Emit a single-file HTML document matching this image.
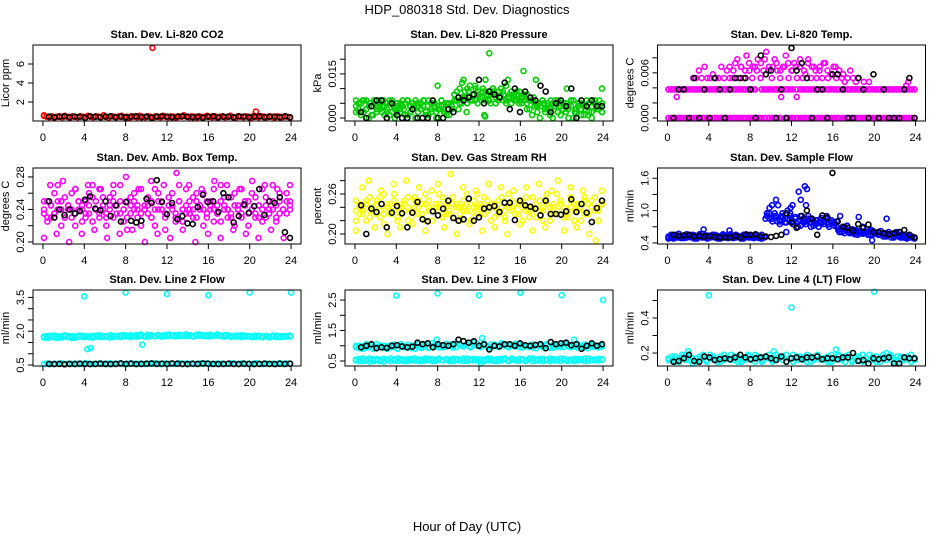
<!DOCTYPE html>
<html><head><meta charset="utf-8">
<style>
html,body{margin:0;padding:0;background:#fff;}
svg{display:block;font-family:"Liberation Sans",Arial,sans-serif;}
</style></head>
<body>
<svg id="chart" width="936" height="540" viewBox="0 0 936 540">
<text x="467" y="14" text-anchor="middle" font-size="13">HDP_080318  Std. Dev. Diagnostics</text>
<text x="467" y="531" text-anchor="middle" font-size="13">Hour of Day (UTC)</text>
</svg>
<script>
// ---------- data ----------
const xTickValues = [0,4,8,12,16,20,24];
const xTickLabels = ["0","4","8","12","16","20","24"];

const co2Red = [0.55,0.45,0.4,0.5,0.35,0.45,0.5,0.4,0.55,0.45,0.35,0.5,0.45,0.4,0.5,0.45,0.35,0.55,0.45,0.4,0.5,0.45,0.4,0.6,0.45,0.35,0.5,0.45,0.4,0.5,0.55,0.4,0.45,0.35,0.5,0.45,0.4,0.55,0.45,0.4,0.5,0.45,0.35,0.5,0.45,0.4,0.55,0.45,0.4,0.5,0.45,0.35,0.5,0.45,0.6,0.45,0.4,0.5,0.45,0.35,0.5,0.4,0.45,0.55,0.45,0.4,0.5,0.35,0.45,0.5,0.4,0.45,0.55,0.4,0.35,0.5,0.45,0.4,0.5,0.45,0.35,0.55,0.45,0.4,0.5,0.45,0.4,0.5,0.45,0.35,0.5,0.45,0.4,0.5,0.45,0.35];
const co2OutHours = [10.6,20.6,0.1];
const co2OutVals = [7.7,1.0,0.6];
const co2Black = [0.45,0.4,0.45,0.5,0.4,0.45,0.45,0.35,0.5,0.45,0.4,0.45,0.5,0.4,0.45,0.4,0.45,0.5,0.4,0.45,0.35,0.45,0.5,0.45,0.4,0.45,0.5,0.45,0.4,0.45,0.35,0.45,0.5,0.4,0.45,0.45,0.4,0.5,0.45,0.4,0.45,0.5,0.4,0.45,0.45,0.4,0.5,0.4];

const presGreen1 = [0.006,0.003,0.005,0.002,0.006,0.004,0.001,0.005,0.003,0.006,0.002,0.004,0.005,0.001,0.006,0.003,0.004,0.002,0.006,0.005,0.001,0.004,0.003,0.006,0.002,0.005,0.004,0.001,0.006,0.003,0.005,0.002,0.004,0.006,0.003,0.001,0.005,0.004,
0.008,0.006,0.010,0.007,0.009,0.005,0.011,0.008,0.006,0.009,0.007,0.010,0.006,0.008,0.005,0.009,0.007,0.006,0.010,0.008,0.005,0.007,0.009,0.006,0.008,0.005,0.007,0.006,
0.005,0.003,0.006,0.004,0.002,0.005,0.006,0.003,0.004,0.001,0.005,0.006,0.002,0.004,0.003,0.005,0.000,0.004,0.006,0.002,0.005,0.003,0.001,0.004,0.005,0.002,0.006,0.003,0.004,0.005];
const presGreen2 = [0.002,0.005,0.001,0.006,0.003,0.000,0.004,0.006,0.002,0.005,0.004,0.001,0.003,0.006,0.002,0.000,0.005,0.003,0.004,0.001,0.006,0.002,0.005,0.000,0.004,0.003,0.006,0.002,0.001,0.005,0.004,0.000,0.003,0.006,0.002,0.005,0.001,0.003,
0.006,0.009,0.005,0.012,0.007,0.010,0.006,0.008,0.011,0.005,0.007,0.009,0.013,0.006,0.008,0.010,0.005,0.009,0.007,0.006,0.011,0.007,0.005,0.008,0.006,0.009,0.005,0.008,
0.003,0.006,0.001,0.005,0.004,0.000,0.006,0.002,0.005,0.003,0.000,0.004,0.006,0.001,0.005,0.002,0.004,0.006,0.000,0.003,0.005,0.001,0.004,0.006,0.002,0.000,0.005,0.003,0.006,0.002];
const presGreen3 = [0.004,0.002,0.006,0.003,0.005,0.001,0.004,0.003,0.006,0.002,0.005,0.004,0.002,0.005,0.003,0.006,0.002,0.004,0.005,0.003,0.006,0.004,0.002,0.005,0.003,0.004,0.002,0.005,0.004,0.006,0.003,0.005,
0.007,0.009,0.006,0.010,0.008,0.007,0.009,0.006,0.010,0.008,0.007,0.009,0.006,0.008,0.007,0.009,0.006,0.007,0.008,0.006,0.007,0.005,
0.004,0.005,0.003,0.006,0.004,0.002,0.005,0.004,0.003,0.006,0.002,0.004,0.005,0.003,0.001,0.004,0.006,0.003,0.002];
const presOutHours = [13.0,8.0,16.3,10.5,17.5,20.5,23.9,12.5,12.6,14.8,10.8];
const presOutVals = [0.022,0.011,0.016,0.013,0.013,0.010,0.010,0.001,0.0005,0.013,0.002];
const presBlack = [0.002,0.000,0.004,0.006,0.006,0.000,0.005,0.001,0.000,0.000,0.003,0.000,0.000,0.000,0.006,0.000,0.000,0.003,0.002,0.007,0.006,0.007,0.008,0.013,0.005,0.009,0.008,0.007,0.012,0.003,0.010,0.002,0.009,0.007,0.006,0.011,0.009,0.002,0.005,0.006,0.004,0.010,0.000,0.006,0.004,0.006,0.004,0.004];

const tempZero = [0,0,0,0,0,0,0,0,0,0,0,0,0,0,0,0,0,0,0,0,0,0,0,0,0,0,0,0,0,0,0,0,0,0,0,0,0,0,null,0,0,0,0,0,null,0,0,0,0,null,0,0,0,0,0,0,0,0,0,0,0,0,0,0,0,0,0,0,0,0,0,0,0,0,0,0,0,0,0,0,0,0,0,0,0,0,0,0,0,0,0,0,0,0,0,0];
const tempZero2 = [0,0,0,0,0,0,0,0,0,0,0,0,0,0,0,0,0,0,0,0,0,0,0,0,0,0,0,null,0,0,0,0,0,null,0,0,0,0,0,0,0,0,0,0,0,0,0,0,0,0,0,0,0,0,0,0,0,0,0,0,0,0,0,0,0,0,0,0,0,0,0,0];
const tempMid = [0.0038,0.0038,0.0038,0.0038,0.0038,0.0038,0.0038,0.0038,0.0038,0.0038,0.0038,0.0038,0.0038,0.0038,0.0038,0.0038,0.0038,0.0038,0.0038,0.0038,0.0038,0.0038,0.0038,0.0038,0.0038,0.0038,0.0038,0.0038,0.0038,0.0038,0.0038,0.0038,0.0038,0.0038,null,null,0.0038,0.0038,0.0038,0.0038,0.0038,0.0038,0.0038,0.0038,0.0038,0.0038,0.0038,0.0038,0.0038,null,null,0.0038,0.0038,0.0038,0.0038,0.0038,0.0038,0.0038,0.0038,0.0038,0.0038,0.0038,0.0038,0.0038,0.0038,0.0038,0.0038,0.0038,0.0038,0.0038,0.0038,0.0038,0.0038,0.0038,0.0038,0.0038,0.0038,0.0038,0.0038,0.0038,0.0038,0.0038,0.0038,0.0038,0.0038,0.0038,0.0038,0.0038,0.0038,0.0038,0.0038,0.0038,0.0038,0.0038,0.0038,0.0038];
const tempMid2 = [0.0038,0.0038,0.0038,0.0038,0.0038,0.0038,0.0038,0.0038,0.0038,0.0038,0.0038,0.0038,0.0038,0.0038,0.0038,0.0038,0.0038,0.0038,0.0038,0.0038,0.0038,0.0038,0.0038,0.0038,0.0038,0.0038,null,0.0038,0.0038,0.0038,0.0038,0.0038,0.0038,0.0038,0.0038,0.0038,null,0.0038,0.0038,0.0038,0.0038,0.0038,0.0038,0.0038,0.0038,0.0038,0.0038,0.0038,0.0038,0.0038,0.0038,0.0038,0.0038,0.0038,0.0038,0.0038,0.0038,0.0038,0.0038,0.0038,0.0038,0.0038,0.0038,0.0038,0.0038,0.0038,0.0038,0.0038,0.0038,0.0038,0.0038,0.0038];
const tempHigh = [0.0053,0.0053,0.0063,0.0053,0.0068,0.0053,0.0053,0.0058,0.0053,0.0053,0.0068,0.0053,0.0063,0.0053,0.0053,0.0073,0.0053,0.0068,0.0053,0.0083,0.0063,0.0053,0.0068,0.0078,0.0053,0.0063,0.0088,0.0068,0.0053,0.0078,0.0063,0.0053,0.0068,0.0083,0.0053,0.0063,0.0073,0.0053,0.0068,0.0053,0.0058,0.0078,0.0053,0.0068,0.0053,0.0063,0.0053,0.0073,0.0053,0.0058,0.0068,0.0053,0.0063,0.0053,0.0048,0.0053,0.0063,0.0053,0.0048,0.0053];
const tempHigh2 = [0.0068,0.0063,0.0078,0.0068,0.0063,0.0073,0.0068,0.0063,0.0073,0.0078,0.0063,0.0068,0.0073,0.0063,0.0068,0.0073,0.0063,0.0068,0.0078,0.0063,0.0073,0.0068,0.0063,0.0068,0.0073,0.0063,0.0058,0.0068,0.0063,0.0058];
const tempOutHours = [0.9,11.0,12.5,19.0,19.5,23.1,23.3];
const tempOutVals = [0.0028,0.0028,0.0028,0.0048,0.0048,0.0043,0.0048];
const tempBlack = [0,0.0038,0.0038,0,0.0053,0,0.0038,0,0.0053,0.0038,0,0.0038,0.0053,0.0053,0.0053,0.0038,0,0.0083,0.0058,0.0063,0,0.0038,0,0.0093,0.0063,0.0073,0.0053,0,0.0038,0.0038,0,0.0058,0.0058,0.0038,0,0,0.0053,0.0038,0,0.0058,0,0.0038,0,0,0,0.0038,0.0053,0];

const ambMag1 = [0.235,0.25,0.23,0.26,0.24,0.22,0.255,0.245,0.23,0.265,0.24,0.225,0.25,0.235,0.27,0.24,0.23,0.255,0.22,0.245,0.26,0.235,0.25,0.24,0.215,0.255,0.24,0.23,0.265,0.245,0.235,0.25,0.22,0.26,0.24,0.23,0.255,0.245,0.225,0.27,0.24,0.235,0.25,0.23,0.26,0.245,0.22,0.25,0.24,0.265,0.235,0.225,0.255,0.24,0.23,0.26,0.245,0.235,0.25,0.22,0.24,0.255,0.23,0.265,0.245,0.235,0.25,0.225,0.26,0.24,0.235,0.25];
const ambMag2 = [0.25,0.225,0.245,0.235,0.27,0.25,0.23,0.24,0.26,0.22,0.25,0.245,0.235,0.26,0.225,0.25,0.265,0.24,0.235,0.255,0.23,0.245,0.27,0.225,0.25,0.235,0.26,0.245,0.22,0.24,0.255,0.23,0.265,0.24,0.25,0.215,0.245,0.26,0.235,0.25,0.225,0.265,0.24,0.255,0.23,0.24,0.26,0.235,0.25,0.225,0.245,0.27,0.24,0.23,0.255,0.22,0.24,0.265,0.25,0.235,0.26,0.23,0.245,0.225,0.255,0.24,0.27,0.23,0.25,0.24,0.26,0.245];
const ambMag3 = [0.205,0.27,0.21,0.275,0.2,0.265,0.21,0.27,0.215,0.265,0.205,0.27,0.21,0.28,0.215,0.265,0.2,0.275,0.21,0.27,0.205,0.285,0.215,0.27,0.2,0.265,0.21,0.275,0.205,0.27,0.215,0.265,0.21,0.275,0.205,0.27,0.215,0.265,0.205,0.27];
const ambMag4 = [0.24,0.23,0.245,0.235,0.25,0.24,0.23,0.245,0.24,0.235,0.25,0.24,0.23,0.245,0.255,0.24,0.235,0.245,0.23,0.24,0.25,0.245,0.235,0.24,0.23,0.245,0.25,0.24,0.235,0.24,0.245,0.23,0.24,0.25,0.24,0.235,0.245,0.24,0.23,0.25,0.24,0.245,0.235,0.24,0.25,0.245,0.24,0.23,0.245,0.24,0.235,0.25,0.245,0.24,0.235,0.245,0.24,0.23,0.245,0.25,0.24,0.235,0.245,0.24,0.23,0.25,0.24,0.245,0.235,0.24,0.25,0.24];
const ambBlack = [0.25,0.23,0.24,0.233,0.24,0.235,0.238,0.252,0.256,0.241,0.239,0.25,0.232,0.245,0.225,0.249,0.226,0.224,0.226,0.253,0.248,0.276,0.249,0.234,0.248,0.228,0.232,0.223,0.222,0.243,0.258,0.249,0.25,0.237,0.26,0.255,0.224,0.232,0.246,0.236,0.244,0.265,0.233,0.25,0.248,0.255,0.212,0.205];

const rhYel1 = [0.22,0.245,0.235,0.25,0.225,0.24,0.23,0.255,0.215,0.245,0.235,0.26,0.225,0.24,0.25,0.22,0.235,0.255,0.23,0.245,0.22,0.25,0.235,0.24,0.26,0.225,0.245,0.23,0.255,0.24,0.22,0.25,0.235,0.245,0.225,0.26,0.24,0.23,0.25,0.22,0.245,0.235,0.255,0.225,0.24,0.25,0.23,0.245,0.22,0.255,0.235,0.24,0.225,0.25,0.235,0.26,0.22,0.245,0.23,0.25,0.24,0.225,0.255,0.235,0.245,0.22,0.25,0.23,0.24,0.255,0.235,0.245];
const rhYel2 = [0.25,0.23,0.24,0.22,0.255,0.235,0.245,0.225,0.26,0.24,0.23,0.25,0.22,0.245,0.235,0.255,0.225,0.24,0.25,0.23,0.26,0.235,0.22,0.245,0.24,0.255,0.23,0.25,0.225,0.245,0.24,0.235,0.26,0.22,0.25,0.24,0.23,0.255,0.235,0.245,0.225,0.25,0.24,0.22,0.26,0.235,0.245,0.23,0.25,0.24,0.225,0.255,0.245,0.235,0.22,0.25,0.24,0.23,0.26,0.245,0.225,0.235,0.25,0.22,0.245,0.24,0.255,0.23,0.25,0.235,0.22,0.245];
const rhYel3 = [0.205,0.27,0.28,0.21,0.265,0.2,0.275,0.21,0.28,0.215,0.27,0.205,0.265,0.275,0.21,0.29,0.2,0.27,0.215,0.265,0.205,0.275,0.21,0.27,0.2,0.265,0.215,0.27,0.205,0.275,0.21,0.265,0.28,0.205,0.27,0.21,0.265,0.2,0.19,0.265];
const rhYel4 = [0.235,0.24,0.23,0.245,0.235,0.24,0.25,0.235,0.23,0.24,0.245,0.235,0.24,0.23,0.245,0.24,0.235,0.25,0.24,0.23,0.245,0.24,0.235,0.24,0.245,0.23,0.24,0.235,0.245,0.24,0.23,0.24,0.245,0.235,0.24,0.23,0.245,0.24,0.235,0.245,0.24,0.23,0.24,0.235,0.245,0.24,0.23,0.245,0.24,0.235,0.24,0.23,0.245,0.235,0.24,0.245,0.23,0.24,0.235,0.245,0.24,0.23,0.24,0.245,0.235,0.24,0.23,0.245,0.24,0.235,0.24,0.245];
const rhBlack = [0.243,0.2,0.238,0.233,0.245,0.21,0.232,0.242,0.231,0.21,0.232,0.248,0.222,0.219,0.234,0.228,0.238,0.25,0.224,0.22,0.222,0.253,0.22,0.225,0.238,0.24,0.242,0.233,0.247,0.247,0.221,0.25,0.243,0.241,0.238,0.228,0.25,0.23,0.23,0.229,0.234,0.252,0.233,0.245,0.232,0.218,0.239,0.25];

const flowBlue1 = [0.5,0.52,0.48,0.55,0.5,0.53,0.49,0.56,0.51,0.5,0.54,0.48,0.52,0.57,0.5,0.49,0.53,0.51,0.55,0.48,0.52,0.5,0.54,0.49,0.56,0.51,0.5,0.53,0.48,0.55,0.52,0.5,0.54,0.49,0.52,0.5,0.48,0.52,
0.95,1.05,0.85,0.9,0.8,0.75,0.95,0.85,1.0,0.9,0.8,0.85,0.7,0.9,0.8,0.75,0.85,0.7,0.8,0.75,0.7,0.8,0.75,0.85,0.7,0.78,0.72,0.8,
0.65,0.6,0.7,0.62,0.58,0.65,0.6,0.55,0.62,0.7,0.58,0.6,0.55,0.62,0.57,0.6,0.55,0.58,0.52,0.6,0.55,0.5,0.57,0.52,0.55,0.5,0.53,0.5,0.52,0.48];
const flowBlue2 = [0.48,0.55,0.52,0.5,0.57,0.49,0.53,0.5,0.55,0.52,0.48,0.51,0.56,0.5,0.53,0.48,0.52,0.55,0.5,0.53,0.48,0.56,0.51,0.5,0.53,0.49,0.55,0.52,0.5,0.48,0.56,0.53,0.5,0.52,0.55,0.49,0.55,0.5,
0.9,0.85,1.1,0.95,0.88,0.8,0.9,0.78,0.85,0.95,0.75,0.88,0.8,0.72,0.85,0.8,0.9,0.78,0.72,0.82,0.78,0.86,0.8,0.9,0.75,0.82,0.78,0.7,
0.6,0.68,0.58,0.72,0.6,0.65,0.56,0.62,0.58,0.68,0.6,0.55,0.65,0.6,0.58,0.55,0.62,0.52,0.58,0.55,0.5,0.56,0.6,0.52,0.5,0.55,0.48,0.52,0.5,0.5];
const flowBlue3 = [0.52,0.5,0.54,0.51,0.53,0.5,0.52,0.55,0.5,0.52,0.51,0.54,0.5,0.53,0.52,0.5,0.54,0.51,0.52,0.5,0.53,0.51,0.5,0.52,0.54,0.5,0.52,0.51,
0.85,0.95,0.8,0.9,0.82,0.88,0.78,0.85,0.8,0.76,0.82,0.78,0.8,0.84,0.78,0.82,0.76,0.8,0.74,0.78,0.76,
0.64,0.6,0.66,0.62,0.58,0.64,0.6,0.57,0.6,0.62,0.56,0.58,0.55,0.57,0.53,0.55,0.52,0.54,0.5,0.52,0.5,0.51,0.5];
const flowOutHours = [10.5,10.7,11.9,12.1,12.7,12.9,13.3,13.5,13.4,3.5,6,11.5,16.7,18.5,21.2,19.8];
const flowOutVals = [1.2,1.1,1.05,1.1,1.35,1.2,1.45,1.4,1.1,0.65,0.63,0.6,0.9,0.88,0.85,0.45];
const flowBlack = [0.55,0.53,0.54,0.55,0.52,0.53,0.52,0.53,0.51,0.5,0.5,0.5,0.53,0.5,0.55,0.55,0.56,0.52,0.52,0.51,0.53,0.55,0.95,0.78,0.68,0.9,1.0,0.85,0.55,0.91,0.87,1.7,0.8,0.7,0.68,0.62,0.75,0.68,0.74,0.6,0.6,0.58,0.56,0.58,0.6,0.64,0.55,0.5];

const l2Upper = [1.72,1.78,1.75,1.8,1.7,1.76,1.82,1.74,1.78,1.71,1.77,1.8,1.75,1.73,1.79,1.76,1.82,1.74,1.78,1.72,1.8,1.77,1.75,1.83,1.78,1.74,1.8,1.76,1.85,1.79,1.75,1.82,1.78,1.8,1.76,1.83,1.79,1.81,1.77,1.84,1.8,1.78,1.82,1.76,1.8,1.85,1.79,1.82,1.77,1.8,1.86,1.78,1.82,1.79,1.75,1.8,1.77,1.82,1.76,1.79,1.74,1.8,1.77,1.73,1.79,1.76,1.8,1.74,1.78,1.75,1.79,1.76];
const l2Upper2 = [1.76,1.7,1.8,1.73,1.78,1.72,1.77,1.79,1.71,1.76,1.8,1.74,1.79,1.77,1.72,1.8,1.75,1.78,1.76,1.82,1.74,1.79,1.81,1.76,1.8,1.82,1.77,1.83,1.79,1.76,1.84,1.8,1.77,1.83,1.8,1.78,1.85,1.8,1.83,1.78,1.82,1.86,1.8,1.78,1.84,1.8,1.82,1.77,1.84,1.79,1.81,1.8,1.76,1.83,1.78,1.76,1.81,1.75,1.8,1.77,1.78,1.74,1.8,1.76,1.78,1.72,1.77,1.8,1.74,1.78,1.76,1.8];
const l2Lower = [0.55,0.57,0.54,0.56,0.55,0.58,0.54,0.56,0.55,0.57,0.54,0.55,0.58,0.56,0.54,0.55,0.57,0.56,0.54,0.58,0.55,0.56,0.57,0.54,0.55,0.58,0.56,0.55,0.57,0.54,0.56,0.55,0.58,0.56,0.54,0.57,0.55,0.56,0.54,0.58,0.55,0.57,0.56,0.54,0.55,0.57,0.56,0.58,0.54,0.55,0.57,0.56,0.54,0.55,0.58,0.56,0.55,0.57,0.54,0.56,0.55,0.58,0.56,0.54,0.57,0.55,0.56,0.54,0.58,0.55,0.57,0.56];
const l2OutHours = [4.0,8.0,12.0,16.0,20.0,24.0,4.3,4.6,9.6];
const l2OutVals = [3.55,3.72,3.65,3.6,3.72,3.72,1.2,1.25,1.4];
const l2Black = [0.55,0.54,0.55,0.53,0.55,0.54,0.56,0.55,0.54,0.55,0.56,0.55,0.54,0.55,0.57,0.55,0.56,0.54,0.55,0.56,0.57,0.55,0.56,0.55,0.57,0.56,0.55,0.54,0.56,0.55,0.57,0.56,0.55,0.54,0.55,0.56,0.55,0.54,0.56,0.55,0.54,0.55,0.56,0.55,0.54,0.56,0.55,0.56];

const l3Upper = [0.95,1.0,0.9,1.05,0.98,0.92,1.05,0.95,1.0,0.9,1.02,0.96,0.92,1.05,0.98,0.94,1.0,0.9,1.05,0.97,1.0,0.93,1.08,0.98,1.02,0.95,1.06,1.0,0.94,1.08,1.02,0.98,1.05,0.95,1.1,1.0,0.96,1.05,1.0,0.94,1.04,0.98,1.08,1.0,0.95,1.03,0.98,1.05,0.94,1.0,0.96,1.04,0.92,1.0,0.96,1.05,0.98,0.94,1.02,0.96,1.08,1.0,0.95,1.02,0.94,0.98,1.04,0.92,0.98,1.02,0.95,1.0];
const l3Upper2 = [1.0,0.92,0.98,0.94,1.02,0.9,0.97,1.0,0.93,0.98,0.95,1.04,0.9,0.99,0.95,1.03,0.92,1.0,0.96,0.93,1.05,0.95,0.99,1.04,0.95,1.0,0.97,1.04,1.0,0.96,1.06,1.0,1.04,0.98,1.02,1.07,0.98,1.02,0.96,1.04,1.0,0.96,1.02,1.05,0.98,1.0,1.06,0.96,1.02,0.98,1.0,0.95,1.02,1.06,0.98,1.0,0.93,1.04,0.98,1.0,0.96,1.04,1.0,0.97,1.04,1.0,0.94,1.0,1.03,0.96,1.0,0.98];
const l3Lower = [0.55,0.5,0.58,0.52,0.48,0.56,0.53,0.5,0.57,0.54,0.5,0.55,0.58,0.52,0.5,0.56,0.53,0.58,0.5,0.55,0.52,0.57,0.5,0.54,0.58,0.52,0.55,0.5,0.57,0.53,0.55,0.5,0.58,0.54,0.52,0.56,0.5,0.55,0.58,0.52,0.54,0.5,0.57,0.55,0.52,0.58,0.54,0.5,0.56,0.53,0.58,0.5,0.55,0.52,0.57,0.54,0.5,0.56,0.52,0.58,0.55,0.5,0.54,0.57,0.52,0.55,0.5,0.58,0.53,0.55,0.52,0.56];
const l3Lower2 = [0.52,0.57,0.5,0.55,0.58,0.5,0.56,0.54,0.48,0.55,0.58,0.52,0.5,0.56,0.54,0.5,0.57,0.52,0.55,0.5,0.58,0.53,0.56,0.5,0.54,0.52,0.57,0.55,0.5,0.56,0.52,0.58,0.5,0.55,0.57,0.52,0.55,0.5,0.53,0.57,0.5,0.56,0.52,0.58,0.5,0.55,0.52,0.57,0.54,0.5,0.55,0.58,0.52,0.56,0.5,0.54,0.58,0.52,0.55,0.5,0.57,0.54,0.52,0.5,0.56,0.53,0.58,0.5,0.55,0.52,0.57,0.54];
const l3OutHours = [4.0,8.0,12.0,16.0,20.0,24.0,12.3,12.2,7.9,21.2];
const l3OutVals = [2.65,2.72,2.66,2.74,2.66,2.5,1.25,0.42,1.2,1.2];
const l3Black = [0.95,1.0,1.05,0.92,0.95,0.93,1.0,1.02,0.98,0.95,0.97,1.1,1.05,1.08,0.95,1.05,1.02,1.0,1.05,1.2,1.15,1.1,1.15,1.0,1.05,0.88,1.0,0.98,1.05,1.05,1.0,1.08,1.02,1.0,1.03,1.05,0.92,1.12,1.05,1.08,1.1,1.02,1.05,0.9,1.0,1.08,1.0,1.05];

const l4Band1 = [0.17,0.16,0.18,0.15,0.17,0.19,0.16,0.17,0.15,0.18,0.17,0.16,0.19,0.17,0.15,0.18,0.16,0.17,0.19,0.16,0.18,0.15,0.17,0.18,0.16,0.19,0.17,0.15,0.18,0.17,0.16,0.19,0.17,0.18,0.15,0.17,0.19,0.16,0.18,0.17,0.15,0.18,0.16,0.19,0.17,0.16,0.18,0.15,0.17,0.19,0.16,0.18,0.17,0.15,0.18,0.16,0.19,0.17,0.16,0.18,0.15,0.17,0.19,0.16,0.18,0.17,0.15,0.18,0.16,0.17,0.19,0.16];
const l4Band2 = [0.16,0.18,0.15,0.17,0.19,0.16,0.18,0.14,0.17,0.16,0.19,0.15,0.17,0.18,0.16,0.15,0.19,0.17,0.16,0.18,0.15,0.17,0.16,0.19,0.17,0.15,0.18,0.16,0.17,0.19,0.15,0.17,0.18,0.16,0.19,0.17,0.15,0.18,0.17,0.16,0.19,0.15,0.17,0.18,0.16,0.17,0.15,0.19,0.16,0.18,0.17,0.15,0.19,0.16,0.17,0.18,0.15,0.17,0.19,0.16,0.18,0.15,0.17,0.16,0.19,0.15,0.18,0.17,0.16,0.18,0.15,0.17];
const l4OutHours = [4.0,12.0,20.0,2.0,10.3,16.3,21.2];
const l4OutVals = [0.53,0.46,0.55,0.21,0.21,0.22,0.2];
const l4Black = [0.15,0.155,0.17,0.19,0.155,0.15,0.18,0.175,0.16,0.165,0.17,0.165,0.175,0.19,0.175,0.165,0.17,0.175,0.18,0.17,0.16,0.18,0.15,0.17,0.175,0.165,0.175,0.175,0.18,0.165,0.17,0.17,0.165,0.175,0.175,0.2,0.155,0.16,0.14,0.17,0.165,0.17,0.175,0.14,0.14,0.175,0.17,0.17];

// ---------- drawing ----------
const NS = "http://www.w3.org/2000/svg";
const svg = document.getElementById("chart");
const colLeft = [33, 345, 657.5];
const boxW = 268;
const rowTop = [45, 168, 290];
const boxH = 76;
const XMIN = -0.96, XMAX = 24.96;

function mk(tag, attrs, parent) {
  const e = document.createElementNS(NS, tag);
  for (const k in attrs) e.setAttribute(k, attrs[k]);
  (parent || svg).appendChild(e);
  return e;
}
function evenHours(n, t0, t1) {
  const out = [];
  for (let i = 0; i < n; i++) out.push(n === 1 ? t0 : t0 + (t1 - t0) * i / (n - 1));
  return out;
}

function drawPanel(p) {
  const L = colLeft[p.col], T = rowTop[p.row];
  const g = mk("g", {});
  
  
  const xs = h => L + (h - XMIN) / (XMAX - XMIN) * boxW;
  const ys = v => T + boxH - (v - p.ylim[0]) / (p.ylim[1] - p.ylim[0]) * boxH;

  const title = mk("text", {x: L + boxW / 2, y: T - 7, "text-anchor": "middle", "font-size": 11, "font-weight": "bold"}, g);
  title.textContent = p.title;
  
  

  const pts = mk("g", {fill: "none", "stroke-width": 1.6}, g);
  
  
  function plotSeries(hours, vals, color, label) {
    const sg = mk("g", {stroke: color}, pts);
    
    
    vals.forEach((v, i) => {
      if (v === null) return;
      const c = mk("circle", {cx: xs(hours[i]).toFixed(1), cy: ys(v).toFixed(1), r: 2.5}, sg);
      
      
    });
  }
  p.bands.forEach((b, bi) => {
    const span = (p.spans && p.spans[bi]) || [0.1, 23.9];
    plotSeries(evenHours(b.length, span[0], span[1]), b, p.color, p.name + '-series-' + (bi + 1));
  });
  if (p.outHours) plotSeries(p.outHours, p.outVals, p.color, p.name + '-outliers');
  plotSeries(evenHours(p.black.length, 0.6, 23.9), p.black, "#000", p.name + '-reference-series');

  const box = mk("rect", {x: L, y: T, width: boxW, height: boxH, fill: "none", stroke: "#000", "stroke-width": 1}, g);
  
  

  const xa = mk("g", {}, g);
  
  
  xTickValues.forEach((t, i) => {
    mk("line", {x1: xs(t), x2: xs(t), y1: T + boxH, y2: T + boxH + 5, stroke: "#000"}, xa);
    const tx = mk("text", {x: xs(t), y: T + boxH + 20, "text-anchor": "middle", "font-size": 11}, xa);
    tx.textContent = xTickLabels[i];
    
    
  });

  const ya = mk("g", {}, g);
  
  
  p.yticks.forEach(t => {
    mk("line", {x1: L - 5, x2: L, y1: ys(t), y2: ys(t), stroke: "#000"}, ya);
  });
  p.ylabels.forEach((t, i) => {
    const yy = ys(t), xx = L - 9;
    const tx = mk("text", {x: xx, y: yy, "text-anchor": "middle", "font-size": 11, transform: `rotate(-90 ${xx} ${yy})`}, ya);
    tx.textContent = p.ylabelText[i];
    
    
  });
  const yx = L - 24, yy = T + boxH / 2;
  const yt = mk("text", {x: yx, y: yy, "text-anchor": "middle", "font-size": 11, transform: `rotate(-90 ${yx} ${yy})`}, g);
  yt.textContent = p.ylab;
  
  
}

const panels = [
  {name: "co2", col: 0, row: 0, title: "Stan. Dev. Li-820 CO2", ylab: "Licor ppm", color: "#ff0000",
   ylim: [0.0, 8.0], yticks: [2,4,6], ylabels: [2,4,6], ylabelText: ["2","4","6"],
   bands: [co2Red], outHours: co2OutHours, outVals: co2OutVals, black: co2Black},
  {name: "pressure", col: 1, row: 0, title: "Stan. Dev. Li-820 Pressure", ylab: "kPa", color: "#00cd00",
   ylim: [-0.00102, 0.02483], yticks: [0,0.005,0.01,0.015,0.02], ylabels: [0,0.015], ylabelText: ["0.000","0.015"],
   bands: [presGreen1, presGreen2, presGreen3], outHours: presOutHours, outVals: presOutVals, black: presBlack},
  {name: "li820-temp", col: 2, row: 0, title: "Stan. Dev. Li-820 Temp.", ylab: "degrees C", color: "#ff00ff",
   ylim: [-0.0004, 0.0097], yticks: [0,0.002,0.004,0.006,0.008], ylabels: [0,0.006], ylabelText: ["0.000","0.006"],
   bands: [tempZero, tempZero2, tempMid, tempMid2, tempHigh, tempHigh2],
   spans: [null, null, null, null, [2.5, 18.5], [6, 17]],
   outHours: tempOutHours, outVals: tempOutVals, black: tempBlack},
  {name: "amb-box-temp", col: 0, row: 1, title: "Stan. Dev. Amb. Box Temp.", ylab: "degrees C", color: "#ff00ff",
   ylim: [0.1975, 0.291], yticks: [0.2,0.22,0.24,0.26,0.28], ylabels: [0.2,0.24,0.28], ylabelText: ["0.20","0.24","0.28"],
   bands: [ambMag1, ambMag2, ambMag3, ambMag4], black: ambBlack},
  {name: "gas-stream-rh", col: 1, row: 1, title: "Stan. Dev. Gas Stream RH", ylab: "percent", color: "#ffff00",
   ylim: [0.185, 0.299], yticks: [0.2,0.22,0.24,0.26,0.28], ylabels: [0.2,0.26], ylabelText: ["0.20","0.26"],
   bands: [rhYel1, rhYel2, rhYel3, rhYel4], black: rhBlack},
  {name: "sample-flow", col: 2, row: 1, title: "Stan. Dev. Sample Flow", ylab: "ml/min", color: "#0000ff",
   ylim: [0.38, 1.79], yticks: [0.4,0.7,1.0,1.3,1.6], ylabels: [0.4,1.0,1.6], ylabelText: ["0.4","1.0","1.6"],
   bands: [flowBlue1, flowBlue2, flowBlue3], outHours: flowOutHours, outVals: flowOutVals, black: flowBlack},
  {name: "line2-flow", col: 0, row: 2, title: "Stan. Dev. Line 2 Flow", ylab: "ml/min", color: "#00ffff",
   ylim: [0.456, 3.83], yticks: [0.5,1.0,1.5,2.0,2.5,3.0,3.5], ylabels: [0.5,2.0,3.5], ylabelText: ["0.5","2.0","3.5"],
   bands: [l2Upper, l2Upper2, l2Lower], outHours: l2OutHours, outVals: l2OutVals, black: l2Black},
  {name: "line3-flow", col: 1, row: 2, title: "Stan. Dev. Line 3 Flow", ylab: "ml/min", color: "#00ffff",
   ylim: [0.336, 2.83], yticks: [0.5,1.0,1.5,2.0,2.5], ylabels: [0.5,1.5,2.5], ylabelText: ["0.5","1.5","2.5"],
   bands: [l3Upper, l3Upper2, l3Lower, l3Lower2], outHours: l3OutHours, outVals: l3OutVals, black: l3Black},
  {name: "line4-flow", col: 2, row: 2, title: "Stan. Dev. Line 4 (LT) Flow", ylab: "ml/min", color: "#00ffff",
   ylim: [0.126, 0.56], yticks: [0.2,0.3,0.4,0.5], ylabels: [0.2,0.4], ylabelText: ["0.2","0.4"],
   bands: [l4Band1, l4Band2], outHours: l4OutHours, outVals: l4OutVals, black: l4Black}
];
panels.forEach(drawPanel);
</script>
</body></html>
